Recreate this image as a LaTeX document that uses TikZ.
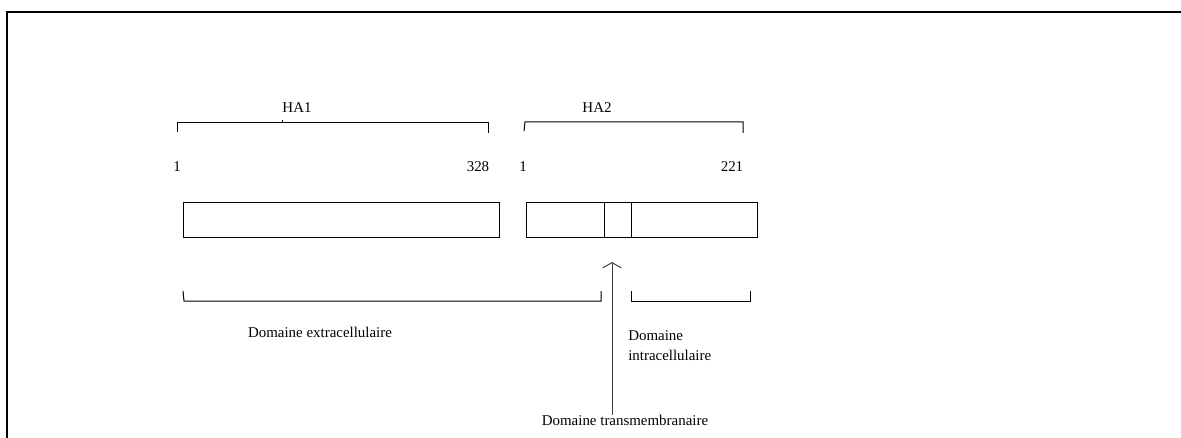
\documentclass[tikz,border=0pt]{standalone}
\usepackage{fontspec}
\setmainfont{Liberation Serif}
\usetikzlibrary{arrows.meta}
\begin{document}
\begin{tikzpicture}[x=0.75pt,y=-0.75pt,
  lbl/.style={font=\fontsize{11.2}{13}\selectfont, inner sep=0pt},
  seg/.style={draw, line width=0.75pt, inner sep=0pt, outer sep=0pt, minimum height=26.25pt}]
		\useasboundingbox (0,0) rectangle (1181,438);
		\draw[line width=1.5pt](7,438)--(7,12)--(1181,12);
		% chains
		\node[seg, minimum width=237pt] (ha1box) at (341,220.5) {};
		\node[seg, minimum width=58.5pt] (ha2ext) at (565,220.5) {};
		\node[seg, minimum width=20.25pt] (ha2tm) at (617.5,220.5) {};
		\node[seg, minimum width=94.5pt] (ha2int) at (694,220.5) {};
		% top braces
		\draw[line width=0.75pt](177,132)--(177,123)--(488,123)--(488,133);
		\draw[line width=0.75pt](282,123)--(282,120);
		\draw[line width=0.75pt](524,131)--(525,122)--(743,122)--(743,133);
		\node[lbl] (ha1) at (297,108) {HA1};
		\node[lbl] (ha2) at (597,108) {HA2};
		\node[lbl] (ha1start) at (177,167) {1};
		\node[lbl] (ha1end) at (478,167) {328};
		\node[lbl] (ha2start) at (523,167) {1};
		\node[lbl] (ha2end) at (732,167) {221};
		% bottom braces
		\draw[line width=0.75pt](183,291)--(184,301)--(601,301)--(601,291);
		\draw[line width=0.75pt](631,291)--(631,301)--(750,301)--(750,291);
		\node[lbl] (extra) at (320,332) {Domaine extracellulaire};
		\node[lbl, font=\fontsize{11.2}{15}\selectfont, align=left, anchor=west] (intra) at (628,346) {Domaine\\intracellulaire};
		\node[lbl, anchor=north] (tm) at (625,415) {Domaine transmembranaire};
		\coordinate (tmtip) at (612,262);
		\draw[-{Straight Barb[length=4pt,width=14pt]}, line width=0.75pt, black!75](tm.north -| tmtip)--(tmtip);
		\end{tikzpicture}
\end{document}
